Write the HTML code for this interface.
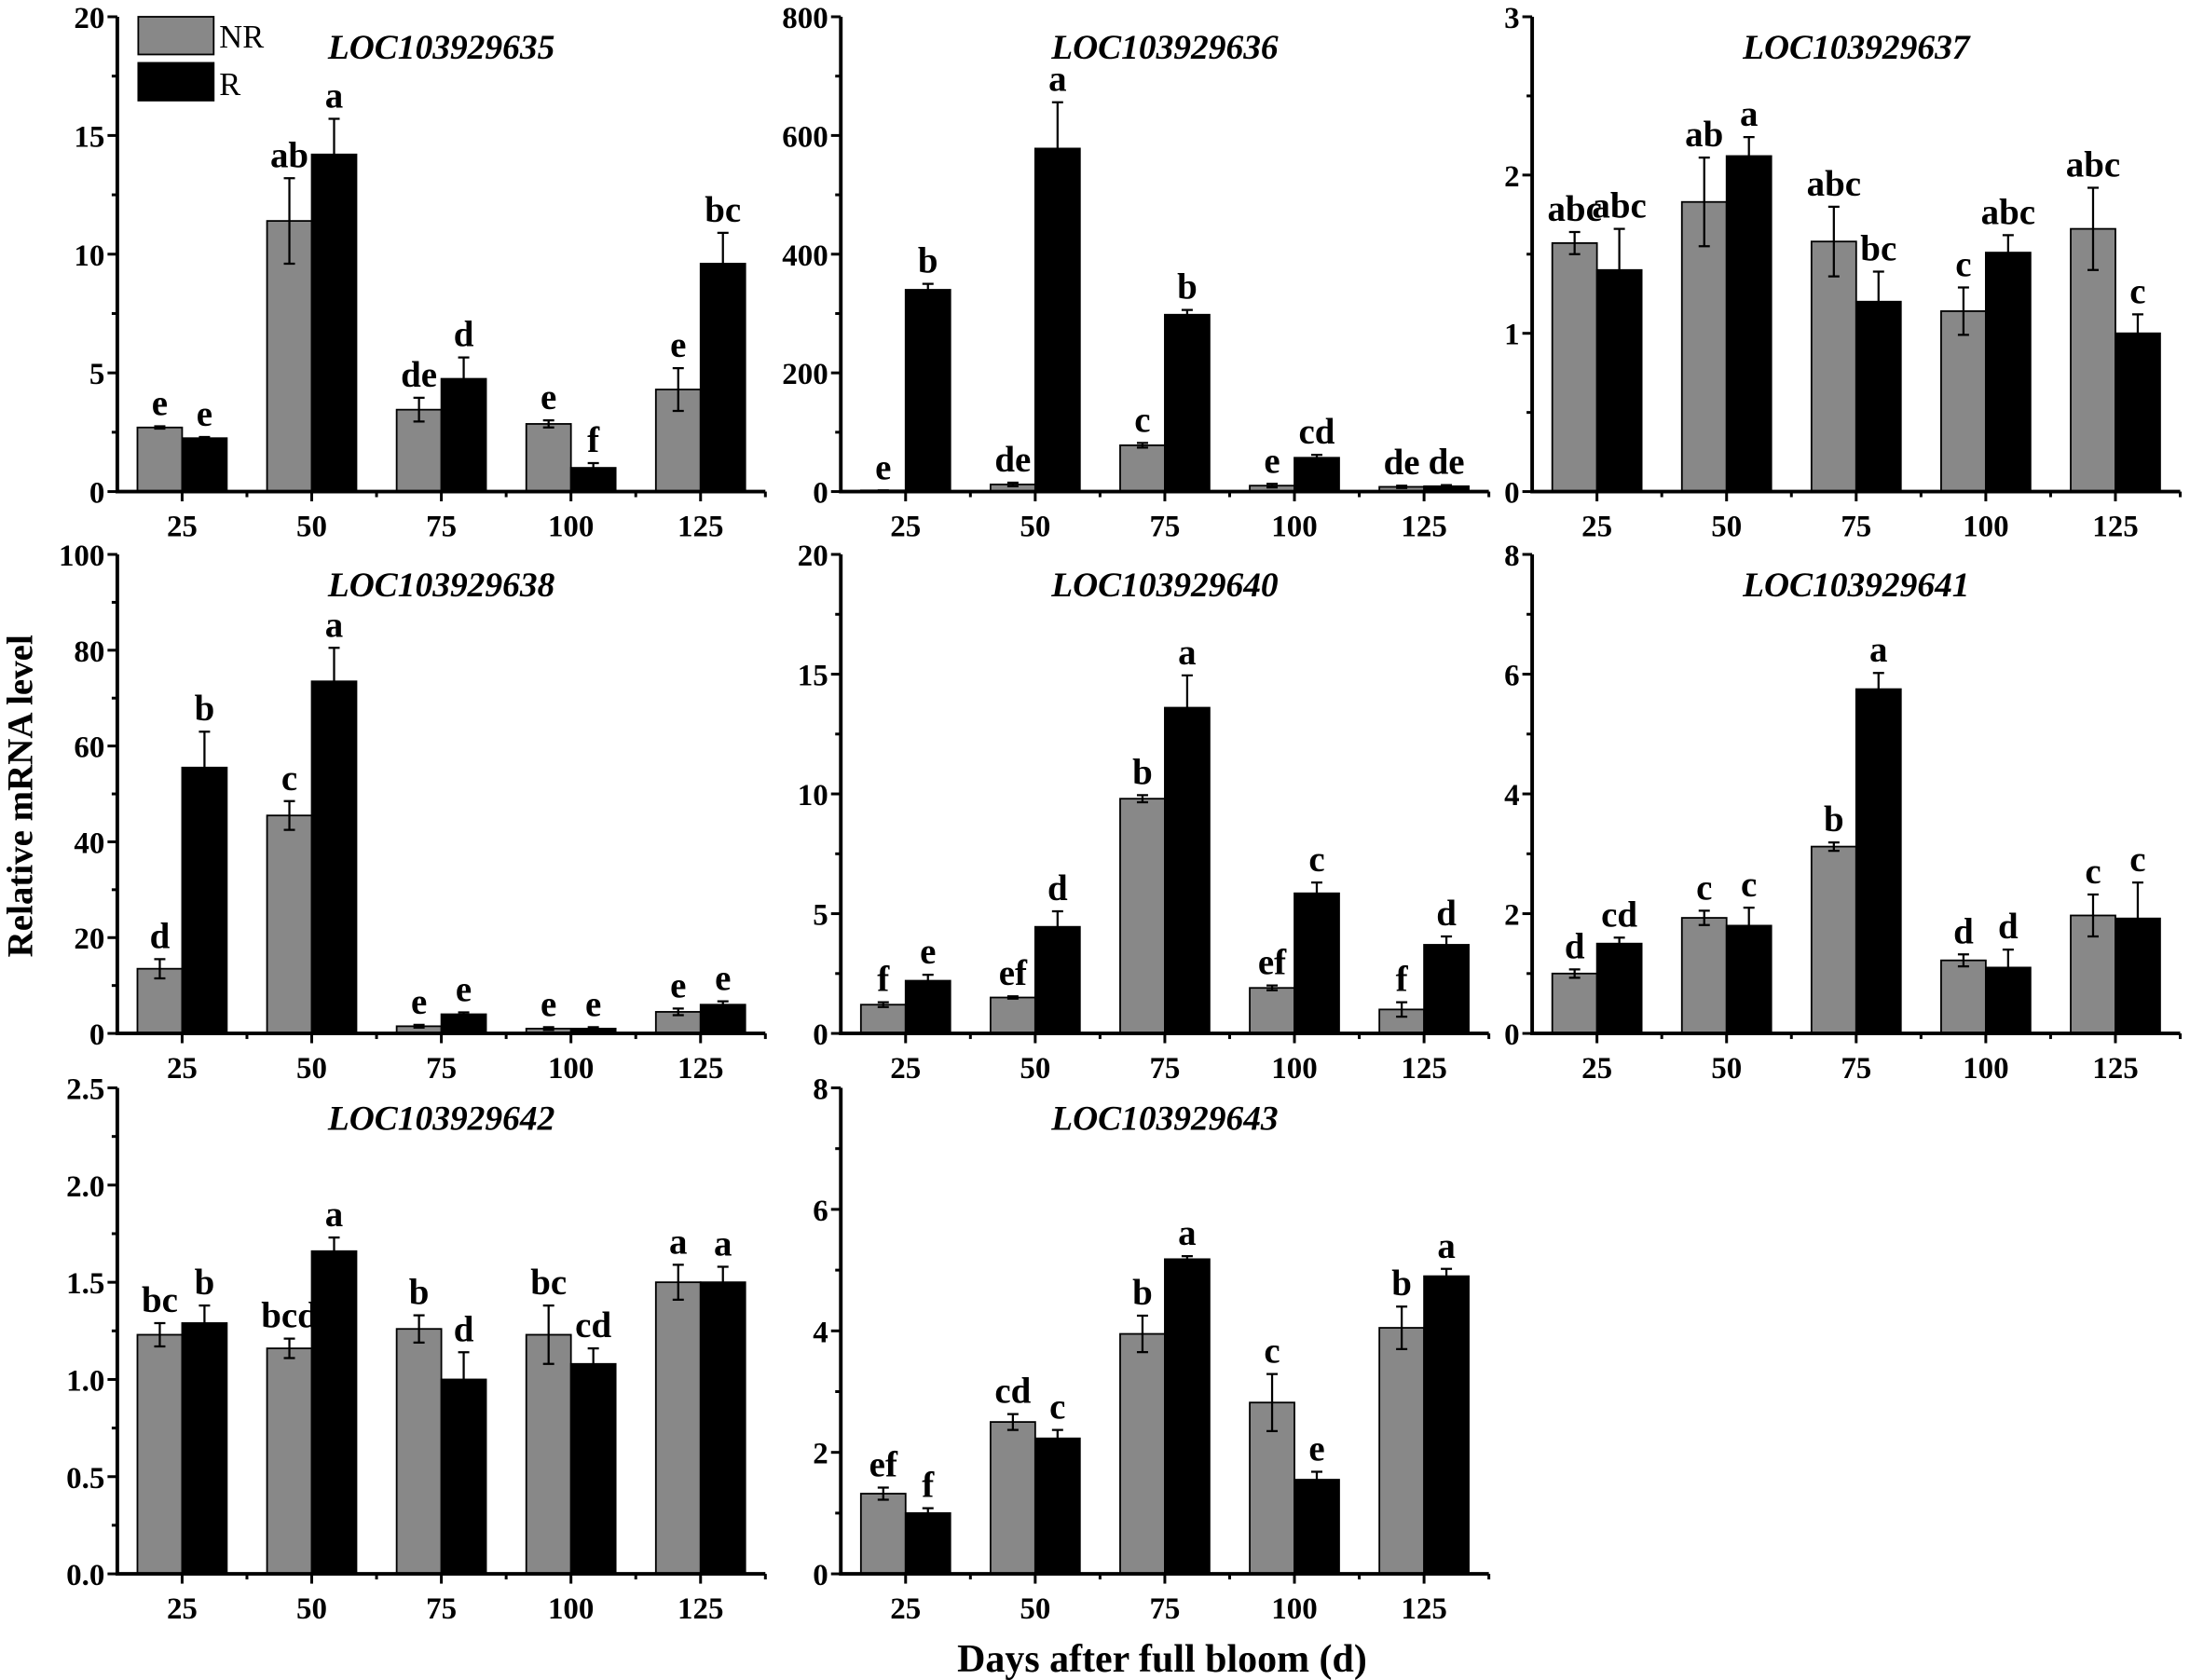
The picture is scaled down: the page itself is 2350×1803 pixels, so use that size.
<!DOCTYPE html>
<html><head><meta charset="utf-8"><style>
html,body{margin:0;padding:0;background:#fff;}
svg{display:block;font-family:"Liberation Serif",serif;font-weight:bold;}
</style></head><body>
<svg id="fig" width="2350" height="1803" viewBox="0 0 1568 1203" xmlns="http://www.w3.org/2000/svg">
<text x="0" y="0" transform="translate(23,570) rotate(-90)" text-anchor="middle" font-size="26">Relative mRNA level</text>
<text x="832" y="1197" text-anchor="middle" font-size="28">Days after full bloom (d)</text>
</svg>
<script>
const categories = ["25","50","75","100","125"];
const titles = ["LOC103929635","LOC103929636","LOC103929637","LOC103929638","LOC103929640","LOC103929641","LOC103929642","LOC103929643"];
const yMaxes = [20,800,3,100,20,8,2.5,8];
const yStep = [5,200,1,20,5,2,0.5,2];
const yDecimals = [0,0,0,0,0,0,1,0];
const nrValues = [
 [2.7,11.4,3.45,2.85,4.3],[2,12,78,10,8],[1.57,1.83,1.58,1.14,1.66],[13.5,45.5,1.5,1,4.5],
 [1.2,1.5,9.8,1.9,1.0],[1.0,1.93,3.12,1.22,1.97],[1.23,1.16,1.26,1.23,1.50],[1.32,2.5,3.95,2.82,4.05]];
const nrErrors = [
 [0.05,1.8,0.5,0.15,0.9],[0,3,4,3,2],[0.07,0.28,0.22,0.15,0.26],[2,3,0.3,0.3,0.7],
 [0.1,0.05,0.15,0.1,0.3],[0.07,0.12,0.07,0.1,0.35],[0.06,0.05,0.07,0.15,0.09],[0.1,0.13,0.3,0.47,0.35]];
const rValues = [
 [2.25,14.2,4.75,1.0,9.6],[340,578,298,57,9],[1.40,2.12,1.20,1.51,1.00],[55.5,73.5,4,1,6],
 [2.2,4.45,13.6,5.85,3.7],[1.5,1.8,5.75,1.1,1.92],[1.29,1.66,1.00,1.08,1.50],[1.0,2.23,5.18,1.55,4.9]];
const rErrors = [
 [0.05,1.5,0.9,0.2,1.3],[10,78,8,5,2],[0.26,0.12,0.19,0.11,0.12],[7.5,7,0.4,0.3,0.7],
 [0.25,0.65,1.35,0.45,0.35],[0.1,0.3,0.27,0.3,0.6],[0.09,0.07,0.14,0.08,0.08],[0.08,0.14,0.05,0.13,0.12]];
const nrLetters = [["e","ab","de","e","e"],["e","de","c","e","de"],["abc","ab","abc","c","abc"],["d","c","e","e","e"],
 ["f","ef","b","ef","f"],["d","c","b","d","c"],["bc","bcd","b","bc","a"],["ef","cd","b","c","b"]];
const rLetters = [["e","a","d","f","bc"],["b","a","b","cd","de"],["abc","a","bc","abc","c"],["b","a","e","e","e"],
 ["e","d","a","c","d"],["cd","c","a","d","c"],["b","a","d","cd","a"],["f","c","a","e","a"]];

const NS="http://www.w3.org/2000/svg";
const svg=document.getElementById('fig');
const colX=[84,602,1097], W=464;
const rows=[[12,352],[397,740],[779,1127]];
function mk(tag,attrs,parent,text){const e=document.createElementNS(NS,tag);for(const k in attrs)e.setAttribute(k,attrs[k]);if(text!==undefined)e.textContent=text;(parent||svg).appendChild(e);return e;}

for(let p=0;p<8;p++){
  const x0=colX[p%3], yt=rows[Math.floor(p/3)][0], yb=rows[Math.floor(p/3)][1];
  const g=mk('g',{});
  
  
  const ys=v=>yb-(v/yMaxes[p])*(yb-yt);
  const slot=W/5;
  const xs=i=>x0+slot*(i+0.5);
  const bw=32;
  for(let i=0;i<5;i++){
    const cx=xs(i);
    const series=[[nrValues[p][i],nrErrors[p][i],nrLetters[p][i],'#888888',cx-bw,'nr'],[rValues[p][i],rErrors[p][i],rLetters[p][i],'#000000',cx,'r']];
    for(const s of series){
      const [v,e,l,c,bx,nm]=s;
      const b=mk('rect',{x:bx,y:ys(v),width:bw,height:yb-ys(v),fill:c,stroke:'#000','stroke-width':1.2},g);
      
      
      const ex=bx+bw/2;
      const eb=mk('path',{d:`M${ex},${ys(v+e)}V${ys(Math.max(0,v-e))}M${ex-4},${ys(v+e)}H${ex+4}M${ex-4},${ys(Math.max(0,v-e))}H${ex+4}`,stroke:'#000','stroke-width':1.5,fill:'none'},g);
      
      
      const t=mk('text',{x:ex,y:ys(v+e)-8,'text-anchor':'middle','font-size':26},g,l);
      
      
    }
  }
  const ax=mk('path',{d:`M${x0},${yt}V${yb}H${x0+W}`,stroke:'#000','stroke-width':2.6,fill:'none'},g);
  
  
  const nT=Math.round(yMaxes[p]/yStep[p]);
  for(let k=0;k<=nT;k++){
    const v=k*yStep[p], y=ys(v);
    mk('line',{x1:x0-7,x2:x0,y1:y,y2:y,stroke:'#000','stroke-width':2},g);
    if(k<nT){const ym=ys(v+yStep[p]/2);mk('line',{x1:x0-4,x2:x0,y1:ym,y2:ym,stroke:'#000','stroke-width':2},g);}
    const t=mk('text',{x:x0-9,y:y+8,'text-anchor':'end','font-size':22},g,v.toFixed(yDecimals[p]));
    
    
  }
  for(let i=0;i<5;i++){
    mk('line',{x1:xs(i),x2:xs(i),y1:yb,y2:yb+7,stroke:'#000','stroke-width':2},g);
    mk('line',{x1:x0+slot*(i+1),x2:x0+slot*(i+1),y1:yb,y2:yb+4,stroke:'#000','stroke-width':2},g);
    const t=mk('text',{x:xs(i),y:yb+32,'text-anchor':'middle','font-size':22},g,categories[i]);
    
    
  }
  const tt=mk('text',{x:x0+W/2,y:yt+30,'text-anchor':'middle','font-size':25,'font-style':'italic'},g,titles[p]);
  
  
}
const lg=mk('g',{});


mk('rect',{x:99,y:12,width:54,height:27,fill:'#888',stroke:'#000','stroke-width':1.2},lg);
mk('rect',{x:99,y:45,width:54,height:27,fill:'#000',stroke:'#000','stroke-width':1.2},lg);
const l1=mk('text',{x:157,y:34,'font-size':23,'font-weight':'normal'},lg,'NR');


const l2=mk('text',{x:157,y:68,'font-size':23,'font-weight':'normal'},lg,'R');


</script>
</body></html>
